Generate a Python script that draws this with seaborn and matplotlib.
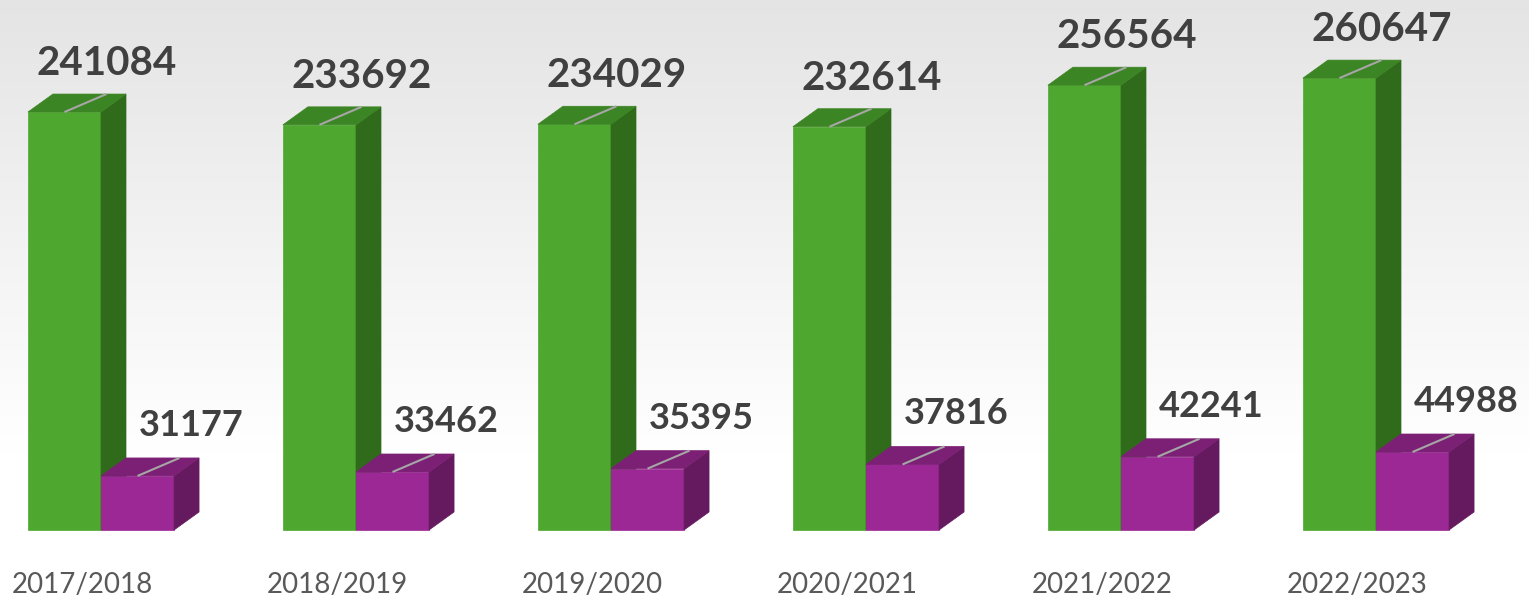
import numpy as np
import pandas as pd
import matplotlib
matplotlib.use("Agg")
import matplotlib.pyplot as plt
from matplotlib.patches import Polygon
import seaborn as sns

# chart data
years = ["2017/2018", "2018/2019", "2019/2020", "2020/2021", "2021/2022", "2022/2023"]
green_values = [241084, 233692, 234029, 232614, 256564, 260647]
purple_values = [31177, 33462, 35395, 37816, 42241, 44988]
series_names = ["Series 1", "Series 2"]

W, H = 1529, 602

sns.set_theme(style="white")
plt.rcParams['font.family'] = ['Lato', 'DejaVu Sans']

df = pd.DataFrame({
    "year": years * 2,
    "value": green_values + purple_values,
    "series": [series_names[0]] * len(years) + [series_names[1]] * len(years),
})

fig = plt.figure(figsize=(W / 100, H / 100), dpi=100)
ax = fig.add_axes([0, 0, 1, 1])

# soft grey gradient behind the bars
rows = np.linspace(0, 1, 256)
g = np.where(rows < 0.75, 0.895 + (1 - 0.895) * rows / 0.75, 1.0)[:, None]
ax.imshow(np.dstack([g, g, g]), extent=[0, 1, 0, 1], transform=ax.transAxes,
          aspect="auto", zorder=0)

front_colors = ["#4EA72E", "#9C2895"]
side_colors = ["#306B1B", "#651A5F"]
top_colors = ["#3C8524", "#7C2075"]

sns.barplot(data=df, x="year", y="value", hue="series", palette=front_colors,
            width=0.573, dodge=True, legend=False, saturation=1, ax=ax)

# map pixels to data units
px0 = 101        # pixel x of first category centre
step = 255       # pixels between categories
base = 530       # pixel y of baseline
ypp = 576.8      # data units per pixel in y
ax.set_xlim(-px0 / step, (W - px0) / step)
ax.set_ylim(-(H - base) * ypp, base * ypp)
ax.axis("off")

dx = 25 / step
dy = 18 * ypp
xpp = 1 / step

for k, cont in enumerate(ax.containers):
    z = 2 + k
    for bar in cont:
        bar.set_zorder(z)
        bar.set_edgecolor(front_colors[k])
        bar.set_linewidth(0.5)
        x0, w, h = bar.get_x(), bar.get_width(), bar.get_height()
        side = [(x0 + w, 0), (x0 + w + dx, dy), (x0 + w + dx, h + dy), (x0 + w, h)]
        top = [(x0, h), (x0 + dx, h + dy), (x0 + w + dx, h + dy), (x0 + w, h)]
        ax.add_patch(Polygon(side, closed=True, facecolor=side_colors[k],
                             edgecolor=side_colors[k], lw=0.5, zorder=z + 0.1))
        ax.add_patch(Polygon(top, closed=True, facecolor=top_colors[k],
                             edgecolor=top_colors[k], lw=0.5, zorder=z + 0.1))

        # value label with leader line
        cx = x0 + w / 2
        if k == 0:
            off_x, off_y, size = 42, 30, 29
        else:
            off_x, off_y, size = 54, 34, 26
        ax.plot([cx, cx + 42 * xpp], [h, h + 18 * ypp], color="#A6A6A6",
                lw=1.5, zorder=6, solid_capstyle="butt")
        ax.text(cx + off_x * xpp, h + off_y * ypp, f"{int(h)}", ha="center",
                va="bottom", fontsize=size, fontweight="bold", color="#404040",
                zorder=7)

# category labels
for i, yr in enumerate(years):
    ax.text(i - 19 * xpp, -(585 - base) * ypp, yr, ha="center", va="center",
            fontsize=20, color="#595959")

fig.savefig("out.png", dpi=100)
